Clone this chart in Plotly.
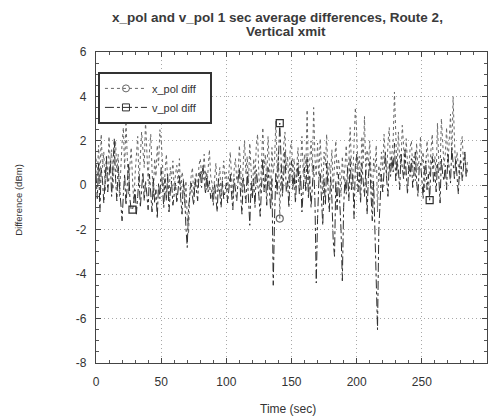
import plotly.graph_objects as go

time_sec = list(range(0, 286))

x_pol_diff = [
    1.2, 0.4, 1.8, 0.2, 2.3, 0.8, 1.5, -0.3, 1.0, 0.5,
    2.2, 0.9, 1.6, -0.2, 1.1, 2.0, 0.6, 1.4, -0.5, 0.8,
    1.9, 2.6, 0.7, 2.9, 1.2, -0.4, 0.9, 1.7, 0.3, -0.8,
    0.5, 1.3, 2.2, 0.1, 1.0, 2.4, 1.6, 0.8, 2.9, 1.1,
    0.2, 1.5, 2.3, 0.7, -0.5, 1.2, 0.4, 1.8, 0.9, 2.5,
    2.1, 1.0, -0.3, 0.6, 1.4, 0.2, -0.6, 0.8, 0.3, 1.1,
    -0.2, 0.5, 0.9, 0.1, 1.2, -0.4, 0.6, 0.3, -0.8, 0.2,
    -1.5, -2.2, -0.3, 0.4, 0.8, -0.5, 0.2, 0.6, -0.2, 0.9,
    1.2, 0.5, 0.46, 1.4, 0.3, -0.2, 0.7, 1.6, 0.4, 0.1,
    -0.4, 0.5, 1.0, -0.3, 0.2, 0.8, -0.5, 0.4, 1.1, 0.3,
    0.6, -0.2, 0.9, 1.5, 0.4, -0.6, 0.7, 1.2, 0.2, 0.5,
    1.8, 0.6, -0.3, 1.0, 2.0, 0.5, 1.3, 0.1, 1.9, 0.7,
    -0.5, 1.2, 0.3, 1.8, 2.3, 0.4, -0.4, 1.0, 2.6, 0.8,
    1.4, 0.2, 2.2, 1.0, -0.3, 1.7, 0.5, 1.1, 2.9, 0.6,
    1.5, -1.5, 0.9, -0.2, 1.8, 2.4, 0.7, 1.3, 0.1, 1.6,
    2.0, 0.6, 1.2, -0.1, 0.9, 1.7, 0.3, 1.0, 2.2, 0.5,
    1.4, 0.8, 3.4, 0.2, 1.1, 2.0, 0.6, 3.5, 1.2, 0.4,
    1.9, 0.3, 2.1, 0.8, -0.4, 1.5, 0.9, 2.3, 0.1, 1.0,
    0.5, 1.6, -0.2, 0.9, 2.0, 0.4, 1.2, 0.7, -0.5, 1.3,
    0.2, 0.8, 1.8, 0.5, 1.1, 2.6, 0.9, 0.3, 1.7, 3.5,
    2.4, 0.7, 1.3, 0.2, 2.2, 1.0, 3.1, 0.5, 1.6, 0.9,
    2.0, 0.4, -0.8, 1.2, 0.6, 1.8, -1.2, 0.9, 0.2, 1.5,
    0.7, 2.3, 1.1, 0.3, 1.9, 2.6, 0.8, 1.4, 2.0, 4.2,
    1.6, 0.5, 2.4, 1.2, 0.9, 2.7, 1.8, 0.4, 2.1, 1.0,
    0.6, 1.7, 2.0, 0.8, 1.3, 0.2, 1.9, 0.7, 1.2, 2.2,
    0.9, 1.5, -0.3, 0.8, 2.0, 1.1, 0.4, 1.6, 2.3, 0.7,
    1.3, 0.5, 2.8, 1.0, 0.6, 3.0, 1.7, 0.9, 1.4, 2.6,
    0.8, 1.9, 3.2, 1.2, 4.0, 2.1, 0.6, 1.5, 1.0, 0.3,
    1.8, 2.2, 0.9, 1.4, 0.5, 1.1,
]

v_pol_diff = [
    0.5, -0.6, 1.0, -1.2, 0.8, 0.2, -0.8, 0.6, 1.3, -0.3,
    0.4, 1.1, -0.5, 0.9, 2.1, 0.3, -0.7, 0.8, 0.1, -1.0,
    -1.6, -0.4, 0.5, -0.9, 0.2, 1.0, -0.6, -1.1, -1.1, -0.8,
    -0.2, -1.3, -0.5, 0.4, -1.0, -0.3, 0.6, -0.7, 0.2, -0.4,
    -1.1, 0.5, -0.6, -1.2, 0.3, -0.8, -0.2, -1.5, 0.1, -0.6,
    0.8, -0.4, -1.0, 0.3, -0.7, 0.5, -1.2, -0.3, 0.2, -0.9,
    -0.5, 0.1, -0.8, -0.2, 0.4, -0.6, -1.3, 0.2, -0.4, -1.9,
    -2.8, -1.0, -0.3, 0.1, -0.5, -0.9, 0.3, -0.2, -0.7, 0.4,
    0.6, -0.1, 0.9, 0.3, -0.4, 0.5, -0.3, 0.2, -0.6, -0.2,
    -0.9, 0.1, -0.5, -1.2, 0.3, -0.4, -1.0, 0.2, -0.6, -0.3,
    0.1, -0.8, -0.2, 0.5, -0.4, -1.1, 0.3, -0.3, -0.7, 0.2,
    0.8, -0.5, -1.3, 0.4, -0.2, -0.8, 0.6, -0.4, -1.8, 0.1,
    -0.6, 0.3, -1.0, 0.7, 0.2, -0.5, -1.4, 0.4, 1.2, -0.3,
    0.5, -0.9, 0.8, -0.2, -1.1, 0.3, -4.5, -1.5, 0.6, -0.4,
    0.9, 2.8, 1.2, -0.5, 0.4, 1.5, -0.3, 0.2, -1.0, 0.7,
    1.1, -0.2, 0.6, -0.8, 0.3, 1.0, -0.4, 0.5, -1.2, 0.2,
    0.8, -0.3, 1.3, -0.6, 0.4, -1.0, -0.2, 0.9, -0.7, -4.4,
    -1.5, 0.2, 0.6, -0.4, -1.8, 0.3, -0.9, 1.0, -0.3, -1.2,
    0.4, -0.6, -2.5, -3.2, 0.2, -1.1, 0.5, -0.5, -2.0, -4.3,
    -1.0, 0.3, -0.4, 0.8, -0.7, 1.2, -0.2, 0.5, -1.5, 0.9,
    1.4, -0.3, 0.6, -0.8, 1.0, 0.2, -0.5, 0.7, -1.3, 0.4,
    1.1, -0.4, -1.6, 0.2, -2.2, -3.8, -6.5, -2.0, -0.6, 0.5,
    -0.3, 0.8, 1.5, 0.3, -0.5, 1.0, 0.4, 1.3, 0.6, 1.9,
    0.2, 1.1, 0.7, -0.2, 1.4, 0.8, 0.3, 1.6, 0.5, -0.4,
    0.9, 0.4, 1.2, -0.1, 0.6, 1.5, 0.2, -0.5, 0.8, 1.0,
    0.3, -0.6, 0.7, 1.1, -0.2, 0.5, -0.67, 0.9, 1.3, 0.1,
    0.6, -0.3, 1.0, 0.4, -0.8, 1.2, 0.5, 0.2, 0.9, -0.2,
    1.4, 0.6, 0.1, 1.7, 0.8, 0.3, 1.2, 0.5, -0.4, 0.9,
    1.1, 0.2, 0.8, 1.5, 0.4, 0.7,
]

x_marker_idx = [82, 141]
v_marker_idx = [28, 141, 256]

x_ticks = [0, 50, 100, 150, 200, 250, 300]
y_ticks = [-8, -6, -4, -2, 0, 2, 4, 6]

title_line1 = "x_pol and v_pol 1 sec average differences, Route 2,"
title_line2 = "Vertical xmit"
x_label = "Time (sec)"
y_label = "Difference (dBm)"
names = ["x_pol diff", "v_pol diff"]

X_COL = "#666666"
V_COL = "#2e2e2e"

fig = go.Figure()
fig.add_trace(go.Scatter(x=time_sec, y=x_pol_diff, mode="lines",
                         line=dict(color=X_COL, width=1, dash="dot"),
                         showlegend=False, hoverinfo="skip"))
fig.add_trace(go.Scatter(x=time_sec, y=v_pol_diff, mode="lines",
                         line=dict(color=V_COL, width=1, dash="dashdot"),
                         showlegend=False, hoverinfo="skip"))
fig.add_trace(go.Scatter(x=[time_sec[i] for i in x_marker_idx],
                         y=[x_pol_diff[i] for i in x_marker_idx], mode="markers",
                         marker=dict(symbol="circle-open", size=7, color=X_COL, line=dict(width=1.2)),
                         showlegend=False))
fig.add_trace(go.Scatter(x=[time_sec[i] for i in v_marker_idx],
                         y=[v_pol_diff[i] for i in v_marker_idx], mode="markers",
                         marker=dict(symbol="square-open", size=7, color=V_COL, line=dict(width=1.2)),
                         showlegend=False))
# legend entries
NB = "\u00a0\u00a0\u00a0"
fig.add_trace(go.Scatter(x=[None], y=[None], mode="lines+markers", name=names[0] + NB,
                         line=dict(color=X_COL, width=1, dash="dot"),
                         marker=dict(symbol="circle-open", size=7, color=X_COL)))
fig.add_trace(go.Scatter(x=[None], y=[None], mode="lines+markers", name=names[1] + NB,
                         line=dict(color=V_COL, width=1, dash="dashdot"),
                         marker=dict(symbol="square-open", size=7, color=V_COL)))

font_fam = "Liberation Sans, Arial, sans-serif"

# page body has an 8px margin, so the figure is drawn 8px in from the top-left
fig.update_layout(
    width=488, height=412,
    margin=dict(l=88, r=9, t=44, b=57, autoexpand=False),
    paper_bgcolor="white", plot_bgcolor="white",
    font=dict(family=font_fam, color="#333333", size=11),
    showlegend=True,
    legend=dict(x=0.005, y=0.936, xanchor="left", yanchor="top",
                bgcolor="white", bordercolor="#333333", borderwidth=2,
                font=dict(size=11, color="#333333"), tracegroupgap=0,
                itemwidth=42),
    annotations=[
        dict(text="<b>" + title_line1 + "</b>", xref="paper", yref="paper",
             x=0.463, y=1.112, xanchor="center", yanchor="middle", showarrow=False,
             font=dict(size=13.5, color="#3a3a3a")),
        dict(text="<b>" + title_line2 + "</b>", xref="paper", yref="paper",
             x=0.486, y=1.066, xanchor="center", yanchor="middle", showarrow=False,
             font=dict(size=13.5, color="#3a3a3a")),
        dict(text=y_label, xref="paper", yref="paper", x=-0.2, y=0.524,
             xanchor="center", yanchor="middle", textangle=-90, showarrow=False,
             font=dict(size=9.5, color="#333333")),
        dict(text=x_label, xref="paper", yref="paper", x=0.49, y=-0.148,
             xanchor="center", yanchor="middle", showarrow=False,
             font=dict(size=12, color="#333333")),
    ],
)

fig.update_xaxes(
    range=[0, 300], tickvals=x_ticks, ticktext=[str(v) for v in x_ticks],
    showgrid=True, gridcolor="#a8a8a8", griddash="1px,3px", gridwidth=1,
    ticks="inside", ticklen=5, tickcolor="#444", mirror="allticks",
    showline=True, linecolor="#444", linewidth=1.2, zeroline=False,
    minor=dict(dtick=10, ticks="inside", ticklen=3, tickcolor="#555", showgrid=False),
    automargin=False, ticklabelstandoff=7,
    tickfont=dict(size=12),
)
fig.update_yaxes(
    range=[-8, 6], tickvals=y_ticks, ticktext=[str(v) for v in y_ticks],
    showgrid=True, gridcolor="#a8a8a8", griddash="1px,3px", gridwidth=1,
    ticks="inside", ticklen=5, tickcolor="#444", mirror="allticks",
    showline=True, linecolor="#444", linewidth=1.2, zeroline=False,
    minor=dict(dtick=0.5, ticks="inside", ticklen=3, tickcolor="#555", showgrid=False),
    automargin=False, ticklabelstandoff=6,
    tickfont=dict(size=12),
)

fig.write_html("out.html")
